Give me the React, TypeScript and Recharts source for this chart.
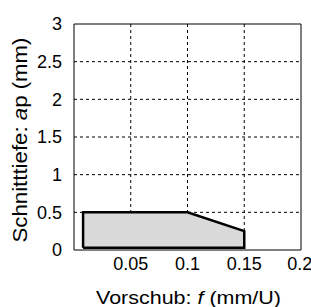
import React from "react";
import {
  ComposedChart,
  Area,
  Line,
  XAxis,
  YAxis,
  CartesianGrid,
  ReferenceLine,
} from "recharts";

const xTicks = [0.05, 0.1, 0.15, 0.2];
const yTicks = [0, 0.5, 1, 1.5, 2, 2.5, 3];

// region of application: feed f (mm/U) vs depth of cut ap (mm)
const regionX = [0.008, 0.1, 0.15];
const regionTop = [0.5, 0.5, 0.25];
const regionBottom = [0.03, 0.03, 0.03];

// closed outline of the region
const outlineX = [0.008, 0.008, 0.1, 0.15, 0.15, 0.008];
const outlineY = [0.03, 0.5, 0.5, 0.25, 0.03, 0.03];

const areaData = regionX.map((x, i) => ({ x, range: [regionBottom[i], regionTop[i]] }));
const outlineData = outlineX.map((x, i) => ({ x, y: outlineY[i] }));

const FONT = "'Liberation Sans', Arial, Helvetica, sans-serif";

const XLabel = (props: any) => {
  const vb = props.viewBox || {};
  const cx = vb.x + vb.width / 2 + 1;
  return (
    <text
      x={cx}
      y={vb.y + 54}
      textAnchor="middle"
      fontSize={19}
      fontFamily={FONT}
      fill="#000"
      textLength={185}
      lengthAdjust="spacingAndGlyphs"
    >
      <tspan>Vorschub: </tspan>
      <tspan fontStyle="italic">f</tspan>
      <tspan> (mm/U)</tspan>
    </text>
  );
};

const YLabel = (props: any) => {
  const vb = props.viewBox || {};
  const cy = vb.y + vb.height / 2 + 3;
  const x = 27;
  return (
    <text
      x={x}
      y={cy}
      textAnchor="middle"
      fontSize={19.5}
      fontFamily={FONT}
      fill="#000"
      textLength={205}
      lengthAdjust="spacingAndGlyphs"
      transform={`rotate(-90, ${x}, ${cy})`}
    >
      <tspan>Schnitttiefe: </tspan>
      <tspan fontStyle="italic">a</tspan>
      <tspan>p (mm)</tspan>
    </text>
  );
};

export default function App() {
  return (
    <div style={{ position: "absolute", left: 0, top: 0, background: "#fff" }}>
      <ComposedChart
        width={311}
        height={307}
        margin={{ top: 24, right: 10, bottom: 0, left: 0 }}
      >
        <CartesianGrid
          stroke="#000"
          strokeDasharray="3 3"
          horizontalValues={[0.5, 1, 1.5, 2, 2.5]}
          verticalValues={[0.05, 0.1, 0.15]}
          horizontal
          vertical
        />
        <XAxis
          type="number"
          dataKey="x"
          domain={[0, 0.2]}
          ticks={xTicks}
          allowDataOverflow
          height={57}
          tickLine={false}
          axisLine={{ stroke: "#000", strokeWidth: 1 }}
          tick={{ fill: "#000", fontSize: 18, fontFamily: FONT }}
          tickMargin={1}
          label={<XLabel />}
        />
        <YAxis
          type="number"
          domain={[0, 3]}
          ticks={yTicks}
          allowDataOverflow
          width={74}
          tickLine={false}
          axisLine={{ stroke: "#000", strokeWidth: 1 }}
          tick={{ fill: "#000", fontSize: 18, fontFamily: FONT }}
          tickMargin={6}
          label={<YLabel />}
        />
        <ReferenceLine y={3} stroke="#000" strokeWidth={1} ifOverflow="extendDomain" />
        <ReferenceLine x={0.2} stroke="#000" strokeWidth={1} ifOverflow="extendDomain" />
        <Area
          data={areaData}
          dataKey="range"
          type="linear"
          fill="#d9d9d9"
          fillOpacity={1}
          stroke="none"
          isAnimationActive={false}
        />
        <Line
          data={outlineData}
          dataKey="y"
          type="linear"
          stroke="#000"
          strokeWidth={2.5}
          dot={false}
          activeDot={false}
          isAnimationActive={false}
        />
      </ComposedChart>
    </div>
  );
}
